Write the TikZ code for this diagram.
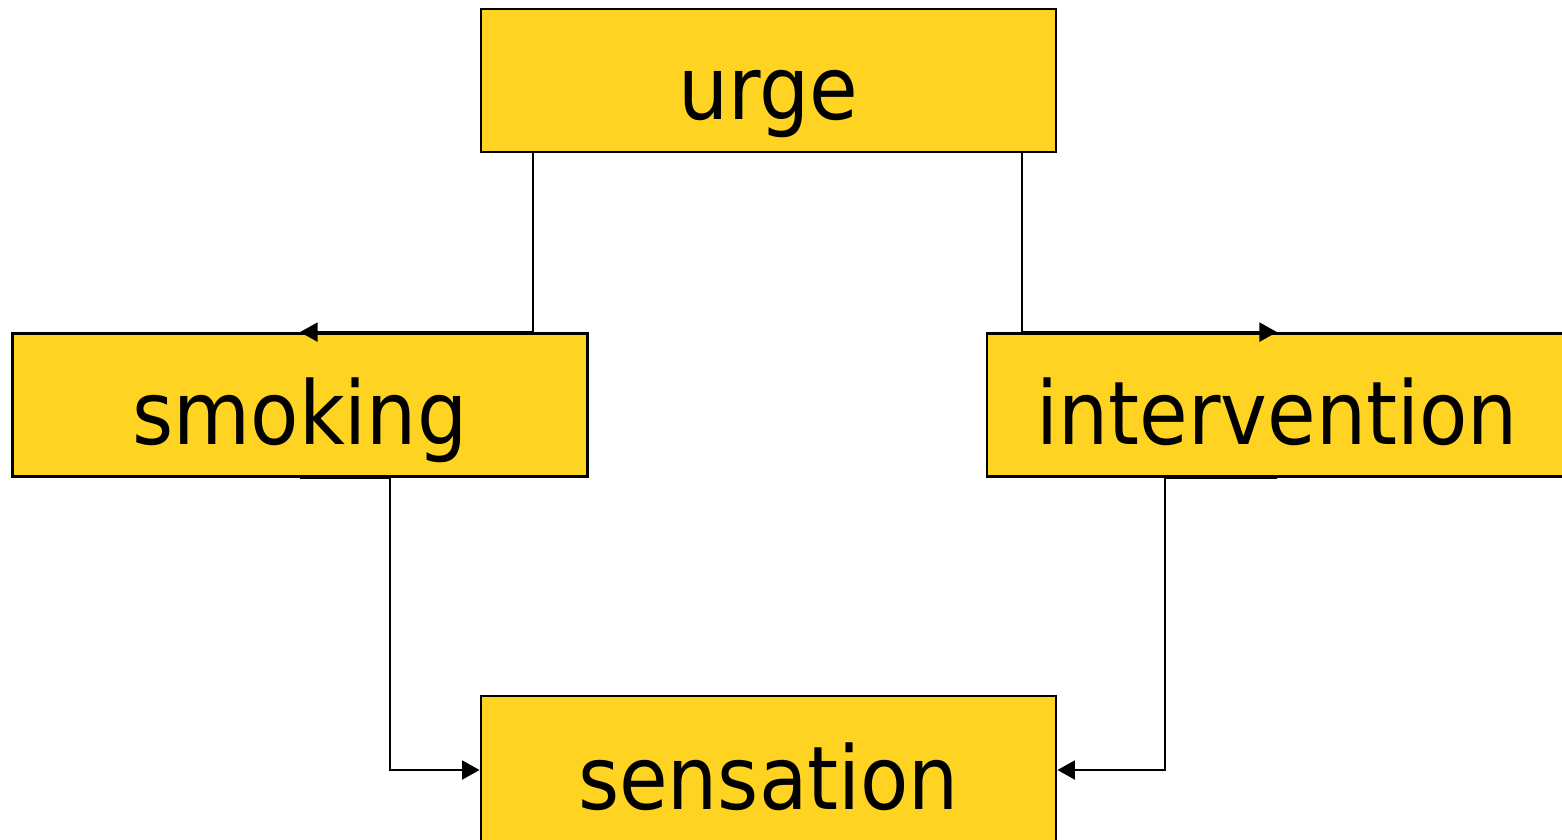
\documentclass[tikz,border=0pt]{standalone}
\usepackage{fontspec}
\setmainfont{DejaVu Sans Condensed}
\usetikzlibrary{arrows.meta}
\definecolor{boxyellow}{RGB}{254,211,34}

\begin{document}
\begin{tikzpicture}

\tikzset{box/.style = {shape=rectangle,draw,fill=boxyellow,line width=0.8pt,
  minimum width=5.75cm,minimum height=1.43cm,inner sep=0pt,
  text height=7.8mm,text depth=0pt,font=\fontsize{25pt}{30pt}\selectfont}}
\tikzset{edge/.style = {->,> = {Triangle[length=5pt,width=5.4pt]},line width=0.6pt}}
\useasboundingbox (0,0) rectangle (15.62,-8.39);
% boxes
\node[box] (urge) at  (7.685,-0.805) {urge};
\node[box] (smoking) at  (3.0,-4.05) {smoking};
\node[box,minimum width=5.8cm] (interv) at  (12.77,-4.05) {intervention};
\node[box,minimum height=1.48cm] (sens) at  (7.685,-7.70) {sensation};

\draw[edge] ([xshift=5.3mm]urge.south west) |- (smoking.north);
\draw[edge] ([xshift=-3.5mm]urge.south east) |- (interv.north);
\draw[edge] (smoking.south) -- ++(0.9,0) |- (sens.west);
\draw[edge] (interv.south) -- ++(-1.12,0) |- (sens.east);
\end{tikzpicture}
\end{document}
